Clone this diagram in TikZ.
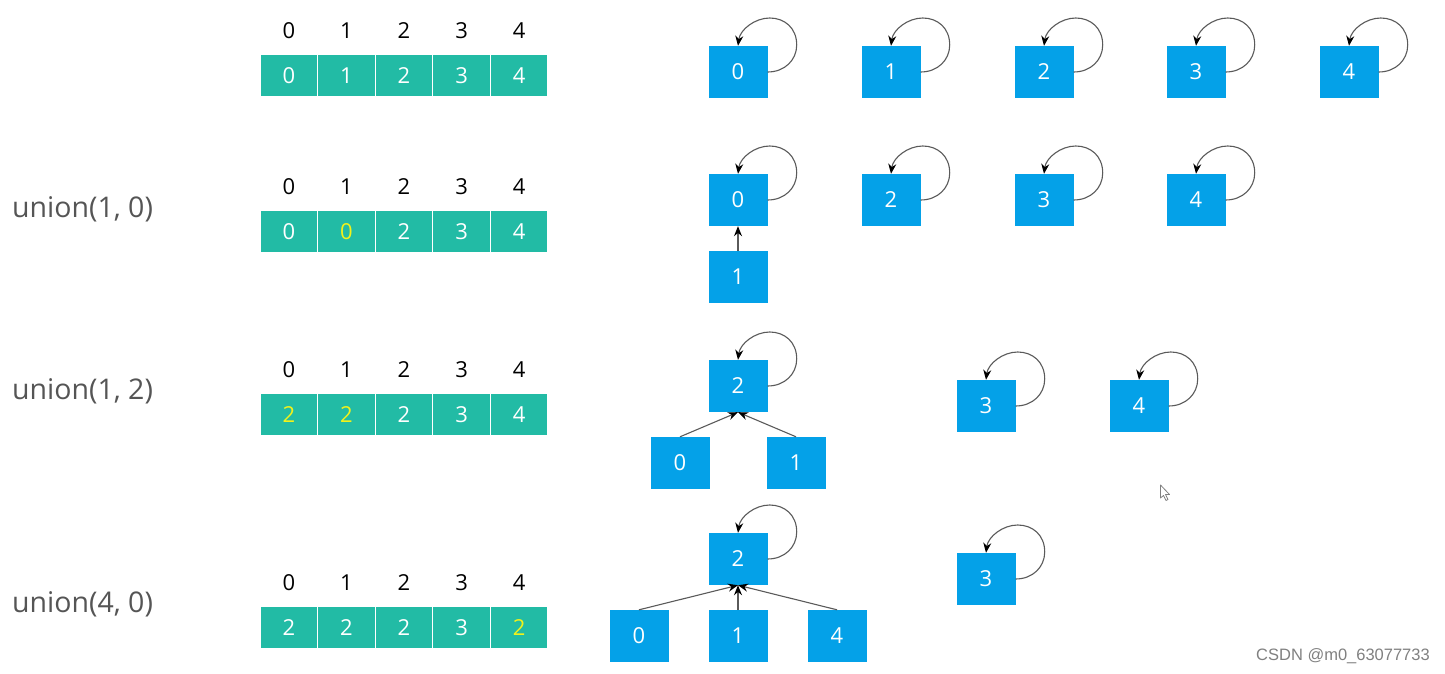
\documentclass[tikz,border=0pt]{standalone}
\usepackage{fontspec}
\setmainfont{Open Sans}
\newfontfamily\wmfont{Liberation Sans}
\usetikzlibrary{arrows.meta}
\definecolor{teal1}{HTML}{22BBA5}
\definecolor{blue1}{HTML}{04A1E8}
\definecolor{yel}{HTML}{F2F21A}
\definecolor{lbl}{HTML}{555555}
\definecolor{edge}{HTML}{5A5A5A}
\tikzset{
  cell/.style={fill=teal1, draw=white, line width=1.2pt, minimum width=57.6pt, minimum height=43pt, inner sep=0pt, text=white, font=\fontsize{22}{26}\selectfont},
  idx/.style={inner sep=0pt, text=black, font=\fontsize{22}{26}\selectfont},
  ulbl/.style={inner sep=0pt, anchor=west, text=lbl, font=\fontsize{28.5}{33}\selectfont},
  tnode/.style={fill=blue1, minimum width=59pt, minimum height=52pt, inner sep=0pt, text=white, font=\fontsize{22}{26}\selectfont},
  lnk/.style={draw=edge, line width=1.1pt, -{Stealth[length=10pt,width=8pt,color=black]}},
}
\newcommand\myloop[1]{\draw[lnk] (#1.east) .. controls +(17,0) and +(0,15) .. ++(29,-27) .. controls +(0,-17) and +(15,0) .. ++(-27,-27) .. controls +(-15,0) and +(2,-16) .. (#1.north);}
\begin{document}
\begin{tikzpicture}[x=1pt,y=-1pt]
\useasboundingbox (0,0) rectangle (1445,674);
% arrays
\foreach \r/\yl/\yc/\va/\vb/\vc/\vd/\ve in {a/31/75.5/0/1/2/3/4, b/187/231.5/0/{\textcolor{yel}{0}}/2/3/4, c/370/414.5/{\textcolor{yel}{2}}/{\textcolor{yel}{2}}/2/3/4, d/583/627.5/2/2/2/3/{\textcolor{yel}{2}}}{
  \foreach \i/\v in {0/\va,1/\vb,2/\vc,3/\vd,4/\ve}{
    \node[idx] (i\r\i) at (288.8+57.6*\i,\yl) {\i};
    \node[cell] (c\r\i) at (288.8+57.6*\i,\yc) {\v};
  }
}
% labels
\node[ulbl] (u1) at (12,209) {union(1, 0)};
\node[ulbl] (u2) at (12,391) {union(1, 2)};
\node[ulbl] (u3) at (12,604) {union(4, 0)};
% row 1
\foreach \i/\x in {0/738,1/891,2/1044,3/1196,4/1349}{
  \node[tnode] (a\i) at (\x,72) {\i};
  \myloop{a\i}
}
% row 2
\foreach \i/\x in {0/738,2/891,3/1044,4/1196}{
  \node[tnode] (b\i) at (\x,200) {\i};
  \myloop{b\i}
}
\node[tnode] (b1) at (738,277) {1};
\draw[lnk] (b1.north) -- (b0.south);
% row 3
\node[tnode] (c2) at (738,386) {2};
\myloop{c2}
\node[tnode] (c3) at (986,406) {3};
\myloop{c3}
\node[tnode] (c4) at (1139,406) {4};
\myloop{c4}
\node[tnode] (c0) at (680,463) {0};
\node[tnode] (c1) at (796,463) {1};
\draw[lnk] (c0.north) -- (c2.south);
\draw[lnk] (c1.north) -- (c2.south);
% row 4
\node[tnode] (d2) at (738,559) {2};
\myloop{d2}
\node[tnode] (d3) at (986,579) {3};
\myloop{d3}
\node[tnode] (d0) at (639,636) {0};
\node[tnode] (d1) at (738,636) {1};
\node[tnode] (d4) at (837,636) {4};
\draw[lnk] (d0.north) -- (d2.south);
\draw[lnk] (d1.north) -- (d2.south);
\draw[lnk] (d4.north) -- (d2.south);
% cursor
\draw[draw=gray, fill=white, line width=0.8pt, line join=round] (1160.5,485) -- (1160.5,498) -- (1163.5,495.5) -- (1166,500.5) -- (1168,499.5) -- (1165.5,494.5) -- (1169.5,494.5) -- cycle;
% watermark
\node[anchor=east, inner sep=0pt, text=gray, font=\wmfont\fontsize{16.5}{19}\selectfont] (wm) at (1430,656) {CSDN @m0\_63077733};
\end{tikzpicture}
\end{document}
